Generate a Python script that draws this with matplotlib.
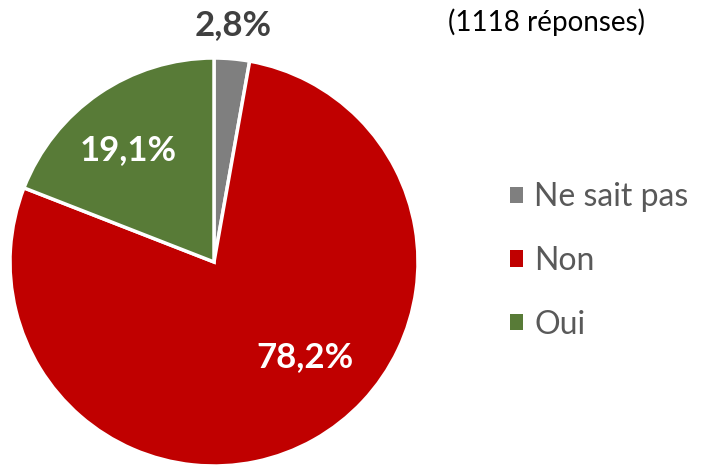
import matplotlib.pyplot as plt
from matplotlib.patches import Patch

plt.rcParams['font.family'] = ['Lato', 'DejaVu Sans']

categories = ['Ne sait pas', 'Non', 'Oui']
values = [2.8, 78.2, 19.1]
labels = ['2,8%', '78,2%', '19,1%']
colors = ['#7f7f7f', '#c00000', '#587b37']

W, H = 707, 466
fig = plt.figure(figsize=(W / 100, H / 100), dpi=100)

# pie box in pixels: left 10, top 58, size 408
ax = fig.add_axes([10 / W, (H - 58 - 408) / H, 408 / W, 408 / H])
ax.pie(values, colors=colors, startangle=90, counterclock=False,
       radius=1.0, wedgeprops=dict(edgecolor='white', linewidth=2.5))
ax.set_xlim(-1, 1)
ax.set_ylim(-1, 1)
ax.set_aspect('equal')
ax.axis('off')

def px(x, y):
    return x / W, 1 - y / H

fig.text(*px(233, 25), labels[0], ha='center', va='center',
         fontsize=25, fontweight='bold', color='#404040')
fig.text(*px(305, 357), labels[1], ha='center', va='center',
         fontsize=25, fontweight='bold', color='white')
fig.text(*px(128, 150), labels[2], ha='center', va='center',
         fontsize=25, fontweight='bold', color='white')
fig.text(*px(547, 22), '(1118 réponses)', ha='center', va='center',
         fontsize=20, color='black')

handles = [Patch(facecolor=c, edgecolor='none') for c in colors]
fig.legend(handles, categories, loc='center left',
           bbox_to_anchor=(481 / W, 1 - 261 / H), frameon=False,
           fontsize=23, labelcolor='#595959', handlelength=0.42,
           handleheight=0.42, handletextpad=0.35, labelspacing=1.05)

fig.savefig('out.png', dpi=100)
